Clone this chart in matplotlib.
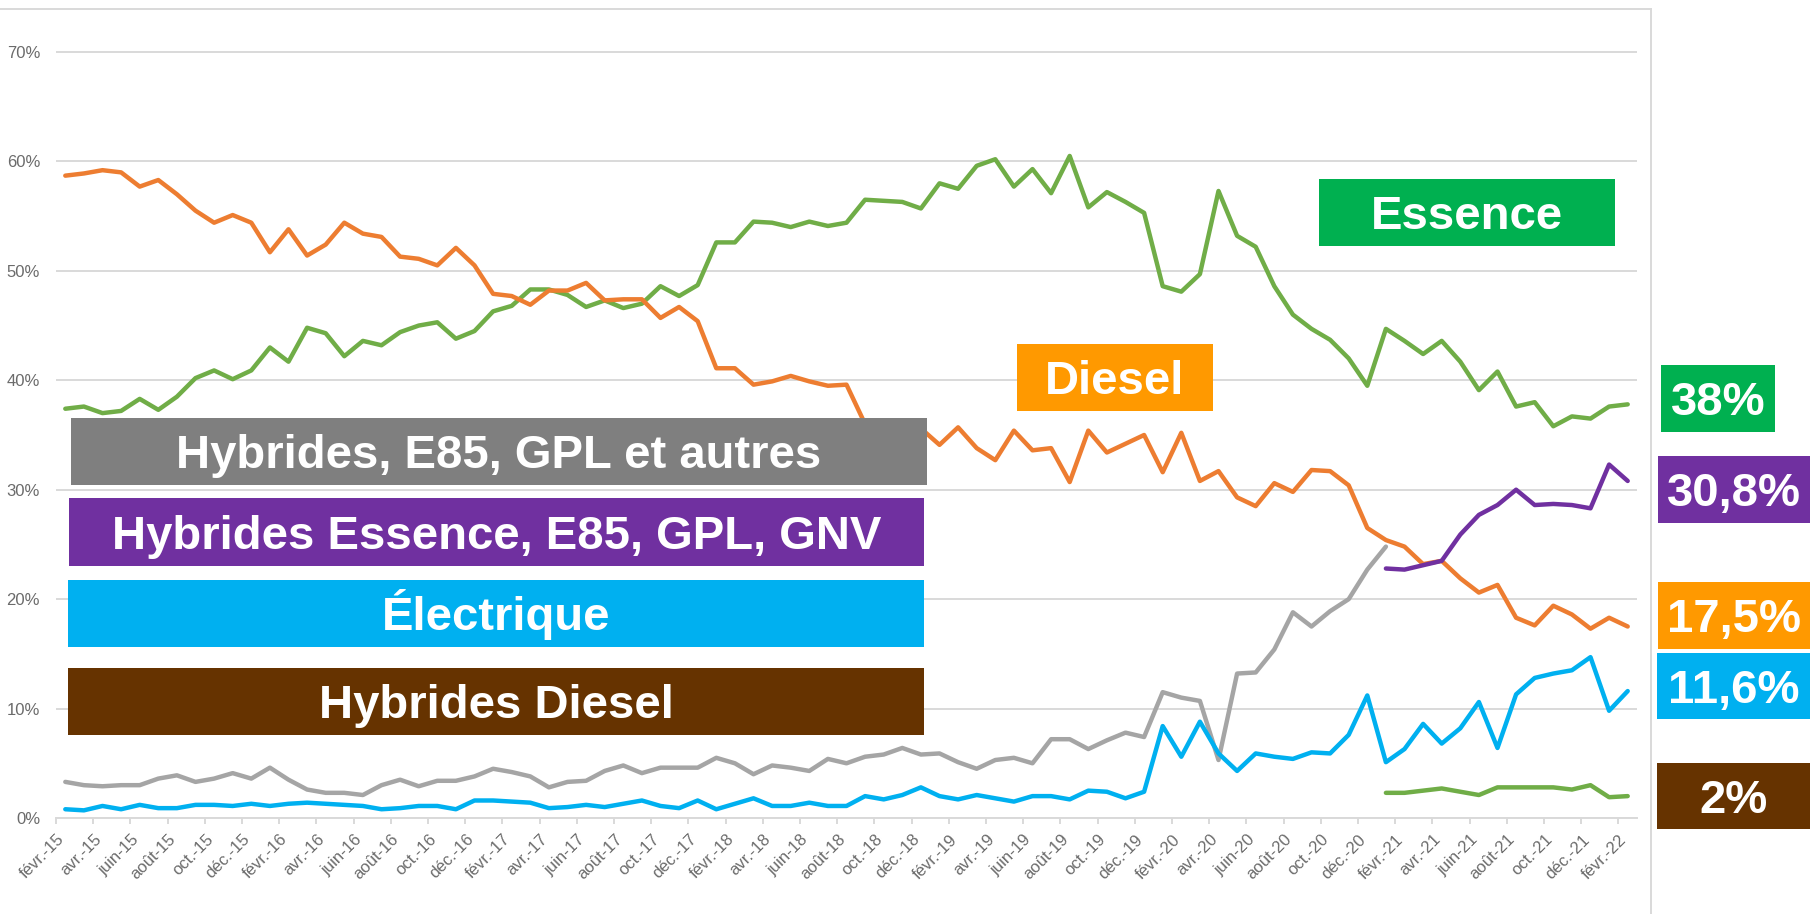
import numpy as np
import matplotlib
matplotlib.use("Agg")
import matplotlib.pyplot as plt
from matplotlib.patches import Rectangle
from matplotlib.lines import Line2D
from matplotlib import font_manager
import matplotlib.transforms as mtransforms

# ---------------- data (share of registrations, %) ----------------
mois = ["janv.", "févr.", "mars", "avr.", "mai", "juin", "juil.", "août",
        "sept.", "oct.", "nov.", "déc."]
months = []
for k in range(85):
    m = (1 + k) % 12
    y = 15 + (1 + k) // 12
    months.append(f"{mois[m]}-{y}")

essence = [37.4, 37.6, 37.0, 37.2, 38.3, 37.3, 38.5, 40.2, 40.9, 40.1,
           40.9, 43.0, 41.7, 44.8, 44.3, 42.2, 43.6, 43.2, 44.4, 45.0,
           45.3, 43.8, 44.5, 46.3, 46.8, 48.3, 48.3, 47.8, 46.7, 47.3,
           46.6, 47.0, 48.6, 47.7, 48.7, 52.6, 52.6, 54.5, 54.4, 54.0,
           54.5, 54.1, 54.4, 56.5, 56.4, 56.3, 55.7, 58.0, 57.5, 59.6,
           60.2, 57.7, 59.3, 57.1, 60.5, 55.8, 57.2, 56.3, 55.3, 48.6,
           48.1, 49.7, 57.3, 53.2, 52.2, 48.6, 46.0, 44.7, 43.7, 42.0,
           39.5, 44.7, 43.6, 42.4, 43.6, 41.7, 39.1, 40.8, 37.6, 38.0,
           35.8, 36.7, 36.5, 37.6, 37.8]

diesel = [58.7, 58.9, 59.2, 59.0, 57.7, 58.3, 57.0, 55.5, 54.4, 55.1,
          54.4, 51.7, 53.8, 51.4, 52.4, 54.4, 53.4, 53.1, 51.3, 51.1,
          50.5, 52.1, 50.5, 47.9, 47.7, 46.9, 48.2, 48.2, 48.9, 47.3,
          47.4, 47.4, 45.7, 46.7, 45.4, 41.1, 41.1, 39.6, 39.9, 40.4,
          39.9, 39.5, 39.6, 36.0, 35.5, 35.9, 35.6, 34.1, 35.7, 33.8,
          32.7, 35.4, 33.6, 33.8, 30.7, 35.4, 33.4, 34.2, 35.0, 31.6,
          35.2, 30.8, 31.7, 29.3, 28.5, 30.6, 29.8, 31.8, 31.7, 30.4,
          26.5, 25.4, 24.8, 23.2, 23.5, 21.9, 20.6, 21.3, 18.3, 17.6,
          19.4, 18.6, 17.3, 18.3, 17.5]

# "Hybrides, E85, GPL et autres": févr.-15 .. janv.-21
hybrides_autres = [3.3, 3.0, 2.9, 3.0, 3.0, 3.6, 3.9, 3.3, 3.6, 4.1,
                   3.6, 4.6, 3.5, 2.6, 2.3, 2.3, 2.1, 3.0, 3.5, 2.9,
                   3.4, 3.4, 3.8, 4.5, 4.2, 3.8, 2.8, 3.3, 3.4, 4.3,
                   4.8, 4.1, 4.6, 4.6, 4.6, 5.5, 5.0, 4.0, 4.8, 4.6,
                   4.3, 5.4, 5.0, 5.6, 5.8, 6.4, 5.8, 5.9, 5.1, 4.5,
                   5.3, 5.5, 5.0, 7.2, 7.2, 6.3, 7.1, 7.8, 7.4, 11.5,
                   11.0, 10.7, 5.3, 13.2, 13.3, 15.4, 18.8, 17.5, 18.9, 20.0,
                   22.7, 24.8]

electrique = [0.8, 0.7, 1.1, 0.8, 1.2, 0.9, 0.9, 1.2, 1.2, 1.1,
              1.3, 1.1, 1.3, 1.4, 1.3, 1.2, 1.1, 0.8, 0.9, 1.1,
              1.1, 0.8, 1.6, 1.6, 1.5, 1.4, 0.9, 1.0, 1.2, 1.0,
              1.3, 1.6, 1.1, 0.9, 1.6, 0.8, 1.3, 1.8, 1.1, 1.1,
              1.4, 1.1, 1.1, 2.0, 1.7, 2.1, 2.8, 2.0, 1.7, 2.1,
              1.8, 1.5, 2.0, 2.0, 1.7, 2.5, 2.4, 1.8, 2.4, 8.4,
              5.6, 8.8, 5.9, 4.3, 5.9, 5.6, 5.4, 6.0, 5.9, 7.6,
              11.2, 5.1, 6.3, 8.6, 6.8, 8.2, 10.6, 6.4, 11.3, 12.8,
              13.2, 13.5, 14.7, 9.8, 11.6]

# from janv.-21 to févr.-22
debut_nouvelles_series = "janv.-21"
hybrides_essence = [22.8, 22.7, 23.1, 23.5, 25.9, 27.7, 28.6, 30.0, 28.6,
                    28.7, 28.6, 28.3, 32.3, 30.8]
hybrides_diesel = [2.3, 2.3, 2.5, 2.7, 2.4, 2.1, 2.8, 2.8, 2.8, 2.8,
                   2.6, 3.0, 1.9, 2.0]

last_labels = ["38%", "30,8%", "17,5%", "11,6%", "2%"]

# ---------------- figure ----------------
W, H, DPI = 1810, 914, 100
avail = {f.name for f in font_manager.fontManager.ttflist}
BIG = "Liberation Sans" if "Liberation Sans" in avail else "DejaVu Sans"
SMALL = "Liberation Sans" if "Liberation Sans" in avail else "DejaVu Sans"

fig = plt.figure(figsize=(W / DPI, H / DPI), dpi=DPI)
fig.patch.set_facecolor("white")

L, R, B = 56, 1637, 818
px_per = (818 - 52) / 70.0
YTOP = 70.5
T = B - YTOP * px_per
ax = fig.add_axes([L / W, (H - B) / H, (R - L) / W, (B - T) / H])
ax.set_xlim(-0.5, len(months) - 0.5)
ax.set_ylim(0, YTOP)

x_all = np.arange(len(months))
s0 = months.index(debut_nouvelles_series)
x_autres = x_all[:len(hybrides_autres)]
x_new = x_all[s0:s0 + len(hybrides_essence)]

lw = 3.2
kw = dict(lw=lw, solid_joinstyle="round", solid_capstyle="round")
ax.plot(x_all, essence, color="#70AD47", **kw)
ax.plot(x_all, diesel, color="#ED7D31", **kw)
ax.plot(x_autres, hybrides_autres, color="#A5A5A5", **kw)
ax.plot(x_all, electrique, color="#00B0F0", **kw)
ax.plot(x_new, hybrides_essence, color="#7030A0", **kw)
ax.plot(x_new, hybrides_diesel, color="#70AD47", **kw)

grid_c = "#D9D9D9"
yt = list(range(0, 80, 10))
ax.set_yticks(yt)
ax.set_yticklabels([f"{v}%" for v in yt], fontsize=12, color="#6b6b6b",
                   family=SMALL)
ax.tick_params(axis="y", length=0, pad=11.5)
ax.yaxis.grid(True, color=grid_c, lw=1.4)
ax.set_axisbelow(True)

ax.set_xticks(np.arange(-0.5, len(months) - 1, 2))
ax.set_xticklabels([])
ax.tick_params(axis="x", length=4, width=1.4, color=grid_c, direction="out")
for sp in ["left", "right", "top"]:
    ax.spines[sp].set_visible(False)
ax.spines["bottom"].set_color(grid_c)
ax.spines["bottom"].set_linewidth(1.4)

off = mtransforms.ScaledTranslation(-3.5 / DPI, -19 / DPI, fig.dpi_scale_trans)
trans = ax.get_xaxis_transform() + off
for i in range(0, len(months), 2):
    ax.text(i, 0, months[i], transform=trans, rotation=45, ha="right",
            va="center", rotation_mode="anchor", fontsize=12,
            color="#6b6b6b", family=SMALL, clip_on=False)

# chart frame
fig.add_artist(Line2D([0, 1651 / W], [(H - 9) / H] * 2, transform=fig.transFigure,
                      color=grid_c, lw=1.4))
fig.add_artist(Line2D([1651 / W] * 2, [(H - 9) / H, 0], transform=fig.transFigure,
                      color=grid_c, lw=1.4))

FS = 34
cap = 0.716 * FS / 72 * DPI


def box(x0, y0, x1, y1, color, text):
    fig.add_artist(Rectangle((x0 / W, (H - y1) / H), (x1 - x0) / W, (y1 - y0) / H,
                             transform=fig.transFigure, facecolor=color,
                             edgecolor="none", zorder=5))
    base = (y0 + y1) / 2 + cap / 2
    fig.text((x0 + x1) / 2 / W, (H - base) / H, text, ha="center",
             va="baseline", color="white", fontsize=FS, fontweight="bold",
             family=BIG, zorder=6)


box(1319, 179, 1615, 246, "#00B050", "Essence")
box(1017, 344, 1213, 411, "#FF9900", "Diesel")
box(71, 418, 927, 485, "#7F7F7F", "Hybrides, E85, GPL et autres")
box(69, 498, 924, 566, "#7030A0", "Hybrides Essence, E85, GPL, GNV")
box(68, 580, 924, 647, "#00B0F0", "Électrique")
box(68, 668, 924, 735, "#663300", "Hybrides Diesel")

box(1661, 365, 1775, 432, "#00B050", last_labels[0])
box(1658, 456, 1810, 523, "#7030A0", last_labels[1])
box(1658, 582, 1810, 649, "#FF9900", last_labels[2])
box(1657, 653, 1810, 719, "#00B0F0", last_labels[3])
box(1657, 763, 1810, 829, "#663300", last_labels[4])

fig.savefig("out.png", dpi=DPI, facecolor="white")
